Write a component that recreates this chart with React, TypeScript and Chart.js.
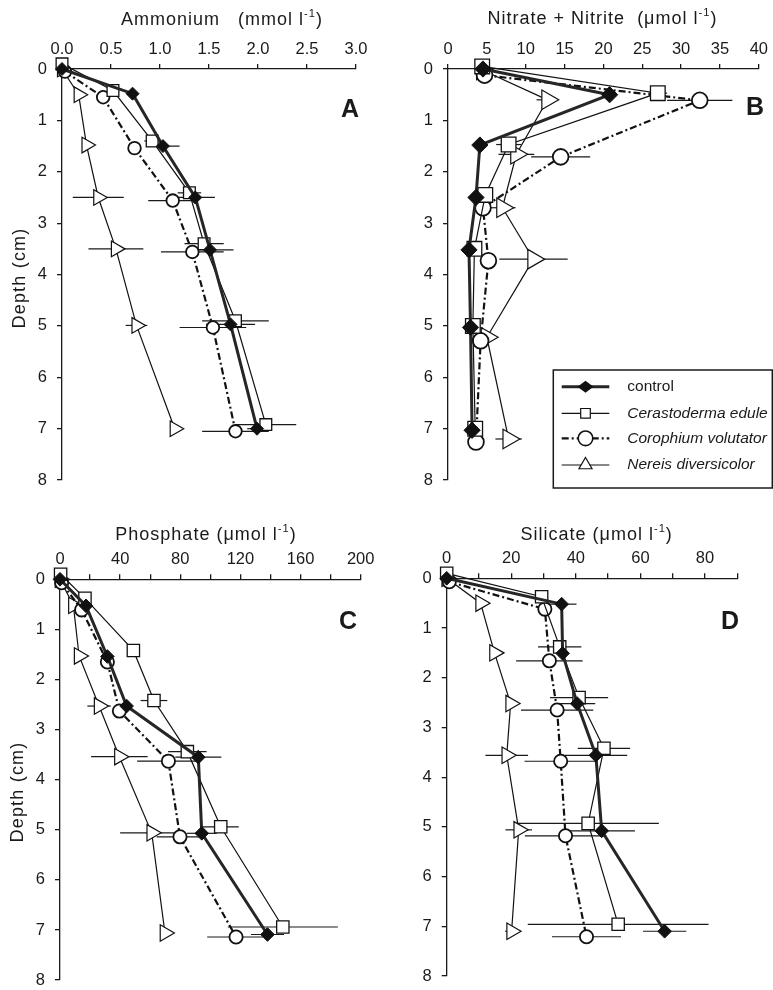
import React, { useEffect, useRef } from 'react';
import { Chart, registerables } from 'chart.js';

Chart.register(...registerables);

const seriesNames = ['control', 'Cerastoderma edule', 'Corophium volutator', 'Nereis diversicolor'];

// ---------- Panel A: Ammonium (mmol l-1) ----------
const ammoniumControl = [0, 0.72, 1.03, 1.36, 1.51, 1.72, 1.99];
const ammoniumControlDepth = [0, 0.48, 1.5, 2.5, 3.52, 4.97, 7.0];
const ammoniumControlErr = [0, 0, 0.17, 0.2, 0.24, 0.25, 0.1];
const ammoniumCerasto = [0, 0.52, 0.92, 1.3, 1.45, 1.77, 2.08];
const ammoniumCerastoDepth = [-0.1, 0.42, 1.4, 2.41, 3.4, 4.9, 6.92];
const ammoniumCerastoErr = [0, 0, 0.08, 0.12, 0.2, 0.34, 0.31];
const ammoniumCoroph = [0.03, 0.42, 0.74, 1.13, 1.33, 1.54, 1.77];
const ammoniumCorophDepth = [0.05, 0.55, 1.54, 2.56, 3.56, 5.03, 7.05];
const ammoniumCorophErr = [0, 0, 0, 0.25, 0.32, 0.34, 0.34];
const ammoniumNereis = [0, 0.17, 0.25, 0.37, 0.55, 0.76, 1.15];
const ammoniumNereisDepth = [0, 0.5, 1.48, 2.5, 3.5, 4.99, 7.0];
const ammoniumNereisErr = [0, 0, 0, 0.26, 0.28, 0.11, 0];

// ---------- Panel B: Nitrate + Nitrite (umol l-1) ----------
const nitrateControl = [4.5, 20.8, 4.1, 3.6, 2.7, 2.9, 3.1];
const nitrateControlDepth = [0, 0.5, 1.48, 2.5, 3.52, 5.03, 7.03];
const nitrateControlErr = [0, 0, 0, 0, 0, 0.5, 0];
const nitrateCerasto = [4.4, 27.0, 7.8, 4.8, 3.4, 3.2, 3.5];
const nitrateCerastoDepth = [-0.05, 0.47, 1.47, 2.45, 3.5, 5.0, 7.0];
const nitrateCerastoErr = [0, 1.2, 1.6, 0.8, 0, 0, 0];
const nitrateCoroph = [4.7, 32.4, 14.5, 4.5, 5.2, 4.2, 3.6];
const nitrateCorophDepth = [0.12, 0.61, 1.71, 2.7, 3.73, 5.29, 7.26];
const nitrateCorophErr = [0, 4.2, 3.8, 0, 0, 0, 0];
const nitrateNereis = [4.4, 12.8, 8.8, 7.0, 11.0, 5.0, 7.8];
const nitrateNereisDepth = [0.02, 0.6, 1.66, 2.7, 3.7, 5.22, 7.2];
const nitrateNereisErr = [0, 1.4, 2.3, 1.7, 4.4, 0, 1.7];

// ---------- Panel C: Phosphate (umol l-1) ----------
const phosphateControl = [0, 17.3, 31.5, 44.3, 92, 94.3, 138];
const phosphateControlDepth = [0, 0.53, 1.54, 2.53, 3.55, 5.07, 7.09];
const phosphateControlErr = [0, 0, 0, 0, 15.3, 10, 11];
const phosphateCerasto = [0.4, 16.6, 48.8, 62.5, 84.7, 106.9, 148.2];
const phosphateCerastoDepth = [-0.1, 0.38, 1.42, 2.42, 3.44, 4.94, 6.94];
const phosphateCerastoErr = [0, 0, 2, 8.9, 12.8, 12, 36.6];
const phosphateCoroph = [1.1, 14.4, 31.5, 39.5, 72.1, 79.8, 117.1];
const phosphateCorophDepth = [0.07, 0.61, 1.65, 2.63, 3.63, 5.14, 7.14];
const phosphateCorophErr = [0, 0, 0, 0, 20.8, 15.5, 19.2];
const phosphateNereis = [0, 8.9, 12.7, 26, 39.5, 61, 69.8];
const phosphateNereisDepth = [0, 0.52, 1.53, 2.53, 3.54, 5.06, 7.06];
const phosphateNereisErr = [0, 0, 0, 7.8, 18.8, 21, 0];

// ---------- Panel D: Silicate (umol l-1) ----------
const silicateControl = [0, 35.6, 35.9, 40.4, 46.2, 48.0, 67.5];
const silicateControlDepth = [0, 0.52, 1.51, 2.52, 3.56, 5.08, 7.1];
const silicateControlErr = [0, 4.6, 0, 5.6, 9.7, 10.3, 6.7];
const silicateCerasto = [0, 29.4, 35.0, 41.0, 48.7, 43.8, 53.1];
const silicateCerastoDepth = [-0.1, 0.37, 1.38, 2.4, 3.42, 4.93, 6.96];
const silicateCerastoErr = [0, 0, 6.7, 9.0, 8.1, 21.9, 28];
const silicateCoroph = [0.8, 30.4, 31.8, 34.2, 35.3, 36.8, 43.3];
const silicateCorophDepth = [0.07, 0.62, 1.66, 2.65, 3.68, 5.18, 7.21];
const silicateCorophErr = [0, 0, 10.3, 11.2, 11.2, 12.6, 10.7];
const silicateNereis = [0, 10.5, 14.8, 19.8, 18.6, 22.3, 20.1];
const silicateNereisDepth = [0, 0.5, 1.5, 2.52, 3.56, 5.06, 7.1];
const silicateNereisErr = [0, 0, 0, 0, 6.6, 4.1, 2];

const depthMin = 0;
const depthMax = 8;

const INK = '#1a1a1a';
const FONT = "'Liberation Sans', Arial, Helvetica, sans-serif";

type Series = { values: number[]; depths: number[]; errors: number[] };
type Part = { t: string; sup?: boolean };

interface PanelDef {
  letter: string;
  title: Part[];
  xMax: number;
  step: number;
  label: (v: number) => string;
  series: Series[];
  box: { left: number; top: number; w: number; h: number };
  yWidth: number;
  xHeight: number;
  padRight: number;
  padBottom: number;
  markerScale: number;
  titlePos: [number, number];
  letterPos: [number, number];
  depthPos: [number, number] | null;
  legend: boolean;
}

const panels: PanelDef[] = [
  {
    letter: 'A',
    title: [{ t: 'Ammonium   (mmol l' }, { t: '-1', sup: true }, { t: ')' }],
    xMax: 3,
    step: 0.5,
    label: (v) => v.toFixed(1),
    series: [
      { values: ammoniumControl, depths: ammoniumControlDepth, errors: ammoniumControlErr },
      { values: ammoniumCerasto, depths: ammoniumCerastoDepth, errors: ammoniumCerastoErr },
      { values: ammoniumCoroph, depths: ammoniumCorophDepth, errors: ammoniumCorophErr },
      { values: ammoniumNereis, depths: ammoniumNereisDepth, errors: ammoniumNereisErr },
    ],
    box: { left: 0, top: 0, w: 390, h: 500 },
    yWidth: 62,
    xHeight: 69,
    padRight: 34,
    padBottom: 16,
    markerScale: 1,
    titlePos: [222, 20],
    letterPos: [350, 110],
    depthPos: [20, 278],
    legend: false,
  },
  {
    letter: 'B',
    title: [{ t: 'Nitrate + Nitrite  (\u03bcmol l' }, { t: '-1', sup: true }, { t: ')' }],
    xMax: 40,
    step: 5,
    label: (v) => String(v),
    series: [
      { values: nitrateControl, depths: nitrateControlDepth, errors: nitrateControlErr },
      { values: nitrateCerasto, depths: nitrateCerastoDepth, errors: nitrateCerastoErr },
      { values: nitrateCoroph, depths: nitrateCorophDepth, errors: nitrateCorophErr },
      { values: nitrateNereis, depths: nitrateNereisDepth, errors: nitrateNereisErr },
    ],
    box: { left: 390, top: 0, w: 383, h: 500 },
    yWidth: 58,
    xHeight: 69,
    padRight: 13,
    padBottom: 16,
    markerScale: 1.25,
    titlePos: [212.5, 19],
    letterPos: [365, 108],
    depthPos: null,
    legend: true,
  },
  {
    letter: 'C',
    title: [{ t: 'Phosphate (\u03bcmol l' }, { t: '-1', sup: true }, { t: ')' }],
    xMax: 200,
    step: 20,
    label: (v) => (Math.round(v) % 40 === 0 ? String(Math.round(v)) : ''),
    series: [
      { values: phosphateControl, depths: phosphateControlDepth, errors: phosphateControlErr },
      { values: phosphateCerasto, depths: phosphateCerastoDepth, errors: phosphateCerastoErr },
      { values: phosphateCoroph, depths: phosphateCorophDepth, errors: phosphateCorophErr },
      { values: phosphateNereis, depths: phosphateNereisDepth, errors: phosphateNereisErr },
    ],
    box: { left: 0, top: 490, w: 390, h: 510 },
    yWidth: 60,
    xHeight: 89.3,
    padRight: 29.3,
    padBottom: 17.3,
    markerScale: 1.05,
    titlePos: [206, 45],
    letterPos: [348, 132],
    depthPos: [18, 302],
    legend: false,
  },
  {
    letter: 'D',
    title: [{ t: 'Silicate (\u03bcmol l' }, { t: '-1', sup: true }, { t: ')' }],
    xMax: 90,
    step: 10,
    label: (v) => (Math.round(v) % 20 === 0 && v <= 80 ? String(Math.round(v)) : ''),
    series: [
      { values: silicateControl, depths: silicateControlDepth, errors: silicateControlErr },
      { values: silicateCerasto, depths: silicateCerastoDepth, errors: silicateCerastoErr },
      { values: silicateCoroph, depths: silicateCorophDepth, errors: silicateCorophErr },
      { values: silicateNereis, depths: silicateNereisDepth, errors: silicateNereisErr },
    ],
    box: { left: 390, top: 490, w: 383, h: 510 },
    yWidth: 56.7,
    xHeight: 88.3,
    padRight: 35.7,
    padBottom: 24,
    markerScale: 1.05,
    titlePos: [206.7, 45],
    letterPos: [340, 132],
    depthPos: null,
    legend: false,
  },
];

const seriesStyles = [
  { pointStyle: 'rectRot', r: 6.5, bg: '#111', bw: 1, lw: 3, dash: [] as number[], color: '#262626', rotation: 0 },
  { pointStyle: 'rect', r: 8.3, bg: '#fff', bw: 1.3, lw: 1.2, dash: [] as number[], color: '#111', rotation: 0 },
  { pointStyle: 'circle', r: 6.3, bg: '#fff', bw: 1.8, lw: 2.2, dash: [7, 3, 2, 3], color: '#111', rotation: 0 },
  { pointStyle: 'triangle', r: 9, bg: '#fff', bw: 1.2, lw: 1.2, dash: [] as number[], color: '#111', rotation: 90 },
];

const errorBarPlugin = {
  id: 'errorBars',
  beforeDatasetsDraw(chart: any) {
    const ctx = chart.ctx;
    const xs = chart.scales.x;
    ctx.save();
    ctx.strokeStyle = INK;
    ctx.lineWidth = 1.2;
    ctx.setLineDash([]);
    chart.data.datasets.forEach((ds: any, i: number) => {
      const meta = chart.getDatasetMeta(i);
      const errs: number[] = ds.errors || [];
      meta.data.forEach((pt: any, j: number) => {
        const e = errs[j];
        if (!e) return;
        const v = ds.data[j].x;
        const x0 = xs.getPixelForValue(v - e);
        const x1 = xs.getPixelForValue(v + e);
        ctx.beginPath();
        ctx.moveTo(x0, pt.y);
        ctx.lineTo(x1, pt.y);
        ctx.stroke();
      });
    });
    ctx.restore();
  },
};

function setSpacing(ctx: CanvasRenderingContext2D, px: number) {
  const c = ctx as any;
  if ('letterSpacing' in c) c.letterSpacing = `${px}px`;
}

function drawRich(ctx: CanvasRenderingContext2D, parts: Part[], cx: number, cy: number, size: number) {
  const fontFor = (p: Part) => `${p.sup ? size * 0.62 : size}px ${FONT}`;
  setSpacing(ctx, 1);
  let total = 0;
  const widths = parts.map((p) => {
    ctx.font = fontFor(p);
    const w = ctx.measureText(p.t).width;
    total += w;
    return w;
  });
  let x = cx - total / 2;
  ctx.textAlign = 'left';
  ctx.textBaseline = 'middle';
  parts.forEach((p, i) => {
    ctx.font = fontFor(p);
    ctx.fillText(p.t, x, p.sup ? cy - size * 0.33 : cy);
    x += widths[i];
  });
  setSpacing(ctx, 0);
}

function drawMarker(ctx: CanvasRenderingContext2D, kind: number, x: number, y: number) {
  ctx.save();
  ctx.setLineDash([]);
  ctx.strokeStyle = '#111';
  ctx.beginPath();
  if (kind === 0) {
    const r = 8;
    ctx.moveTo(x - r, y);
    ctx.lineTo(x, y - r * 0.75);
    ctx.lineTo(x + r, y);
    ctx.lineTo(x, y + r * 0.75);
    ctx.closePath();
    ctx.fillStyle = '#111';
    ctx.fill();
  } else if (kind === 1) {
    const h = 4.8;
    ctx.rect(x - h, y - h, 2 * h, 2 * h);
    ctx.fillStyle = '#fff';
    ctx.fill();
    ctx.lineWidth = 1.2;
    ctx.stroke();
  } else if (kind === 2) {
    ctx.arc(x, y, 7.3, 0, Math.PI * 2);
    ctx.fillStyle = '#fff';
    ctx.fill();
    ctx.lineWidth = 1.6;
    ctx.stroke();
  } else {
    const r = 7.5;
    ctx.moveTo(x, y - r);
    ctx.lineTo(x + r * 0.87, y + r * 0.5);
    ctx.lineTo(x - r * 0.87, y + r * 0.5);
    ctx.closePath();
    ctx.fillStyle = '#fff';
    ctx.fill();
    ctx.lineWidth = 1.2;
    ctx.stroke();
  }
  ctx.restore();
}

function makeDecor(p: PanelDef) {
  return {
    id: 'decor' + p.letter,
    afterDraw(chart: any) {
      const ctx: CanvasRenderingContext2D = chart.ctx;
      ctx.save();
      ctx.fillStyle = INK;
      drawRich(ctx, p.title, p.titlePos[0], p.titlePos[1], 18);
      ctx.font = `bold 25px ${FONT}`;
      ctx.textAlign = 'center';
      ctx.textBaseline = 'middle';
      ctx.fillText(p.letter, p.letterPos[0], p.letterPos[1]);
      if (p.depthPos) {
        ctx.save();
        ctx.translate(p.depthPos[0], p.depthPos[1]);
        ctx.rotate(-Math.PI / 2);
        ctx.font = `18px ${FONT}`;
        setSpacing(ctx, 1.2);
        ctx.textAlign = 'center';
        ctx.textBaseline = 'middle';
        ctx.fillText('Depth (cm)', 0, 0);
        setSpacing(ctx, 0);
        ctx.restore();
      }
      if (p.legend) {
        const bx = 163.3, by = 370, bw = 219, bh = 118;
        ctx.strokeStyle = INK;
        ctx.lineWidth = 1.5;
        ctx.strokeRect(bx, by, bw, bh);
        const rows = [386.7, 413.3, 438.3, 465];
        seriesNames.forEach((name, i) => {
          const st = seriesStyles[i];
          const y = rows[i];
          ctx.save();
          ctx.strokeStyle = st.color;
          ctx.lineWidth = st.lw;
          ctx.setLineDash(st.dash);
          ctx.beginPath();
          ctx.moveTo(171.7, y);
          ctx.lineTo(219.3, y);
          ctx.stroke();
          ctx.restore();
          drawMarker(ctx, i, 195.5, y);
          ctx.fillStyle = INK;
          ctx.font = `${i === 0 ? '' : 'italic '}15.5px ${FONT}`;
          ctx.textAlign = 'left';
          ctx.textBaseline = 'middle';
          ctx.fillText(name, 237.3, y);
        });
      }
      ctx.restore();
    },
  };
}

function buildConfig(p: PanelDef): any {
  const datasets = p.series.map((s, i) => {
    const st = seriesStyles[i];
    return {
      label: seriesNames[i],
      data: s.values.map((v, j) => ({ x: v, y: s.depths[j] })),
      errors: s.errors,
      showLine: true,
      borderColor: st.color,
      borderWidth: st.lw,
      borderDash: st.dash,
      pointStyle: st.pointStyle,
      pointRotation: st.rotation,
      pointRadius: st.r * p.markerScale,
      pointBackgroundColor: st.bg,
      pointBorderColor: '#111',
      pointBorderWidth: st.bw,
      pointHoverRadius: st.r * p.markerScale,
      tension: 0,
      clip: false,
    };
  });
  const tickFont = { family: FONT, size: 16.5 };
  return {
    type: 'scatter',
    data: { datasets },
    options: {
      responsive: false,
      animation: false,
      devicePixelRatio: 1,
      events: [],
      layout: { padding: { left: 0, top: 0, right: p.padRight, bottom: p.padBottom } },
      plugins: { legend: { display: false }, tooltip: { enabled: false } },
      scales: {
        x: {
          type: 'linear',
          position: 'top',
          min: 0,
          max: p.xMax,
          ticks: {
            stepSize: p.step,
            autoSkip: false,
            maxRotation: 0,
            padding: 5,
            color: INK,
            font: tickFont,
            callback: (v: number) => p.label(Number(v)),
          },
          grid: { display: true, drawOnChartArea: false, drawTicks: true, tickLength: 5, color: INK, lineWidth: 1.3 },
          border: { display: true, color: INK, width: 1.3 },
          afterFit: (s: any) => {
            s.height = p.xHeight;
          },
        },
        y: {
          type: 'linear',
          reverse: true,
          min: depthMin,
          max: depthMax,
          ticks: {
            stepSize: 1,
            autoSkip: false,
            padding: 10,
            color: INK,
            font: tickFont,
          },
          grid: { display: true, drawOnChartArea: false, drawTicks: true, tickLength: 5, color: INK, lineWidth: 1.3 },
          border: { display: true, color: INK, width: 1.3 },
          afterFit: (s: any) => {
            s.width = p.yWidth;
          },
        },
      },
    },
    plugins: [errorBarPlugin, makeDecor(p)],
  };
}

function Panel({ p }: { p: PanelDef }) {
  const ref = useRef<HTMLCanvasElement>(null);
  useEffect(() => {
    const chart = new Chart(ref.current as HTMLCanvasElement, buildConfig(p));
    return () => chart.destroy();
  }, [p]);
  return (
    <canvas
      ref={ref}
      width={p.box.w}
      height={p.box.h}
      style={{ position: 'absolute', left: p.box.left, top: p.box.top, width: p.box.w, height: p.box.h }}
    />
  );
}

export default function App() {
  return (
    <div
      style={{
        position: 'absolute',
        left: 0,
        top: 0,
        width: 773,
        height: 990,
        overflow: 'hidden',
        background: '#fff',
      }}
    >
      {panels.map((p) => (
        <Panel key={p.letter} p={p} />
      ))}
    </div>
  );
}
